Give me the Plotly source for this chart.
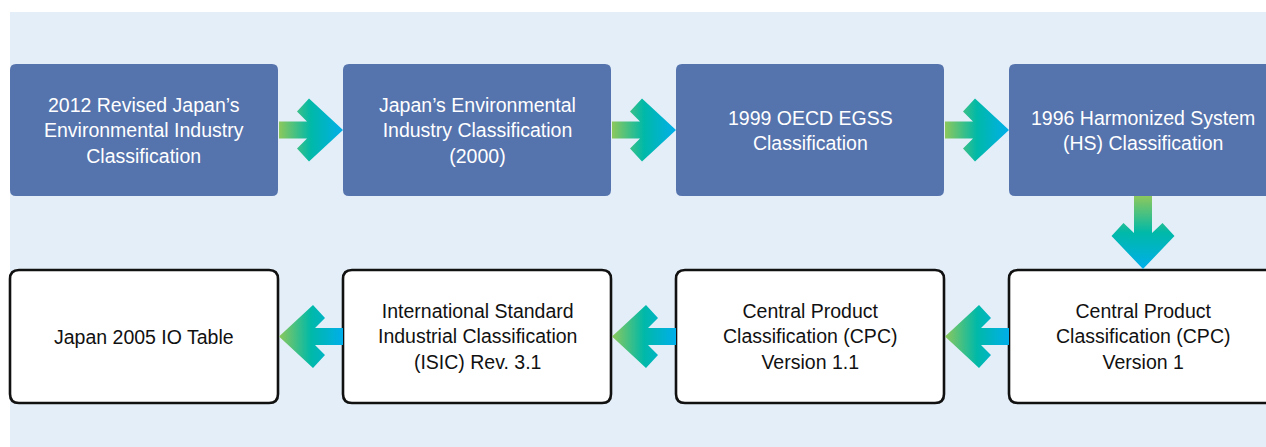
import plotly.graph_objects as go

# Flow steps (top row left->right, bottom row right->left in reading order)
top_labels = [
    "2012 Revised Japan’s<br>Environmental Industry<br>Classification",
    "Japan’s Environmental<br>Industry Classification<br>(2000)",
    "1999 OECD EGSS<br>Classification",
    "1996 Harmonized System<br>(HS) Classification",
]
bottom_labels = [
    "Japan 2005 IO Table",
    "International Standard<br>Industrial Classification<br>(ISIC) Rev. 3.1",
    "Central Product<br>Classification (CPC)<br>Version 1.1",
    "Central Product<br>Classification (CPC)<br>Version 1",
]

W, H = 1266, 447
BOX_W, BOX_STEP = 268, 333
X0 = 10
TOP_Y = (64, 196)
BOT_Y = (270, 403)
BOX_FILL = "#5573AD"
PANEL = "#E3EEF8"
FONT = "Liberation Sans, Arial, sans-serif"
FS = 19.5
GRAD = [[0, "#8DC85C"], [0.5, "#00B9A8"], [1, "#00AEEA"]]


def rrect(x0, y0, x1, y1, r):
    return (f"M{x0+r},{y0} L{x1-r},{y0} Q{x1},{y0} {x1},{y0+r} L{x1},{y1-r} "
            f"Q{x1},{y1} {x1-r},{y1} L{x0+r},{y1} Q{x0},{y1} {x0},{y1-r} "
            f"L{x0},{y0+r} Q{x0},{y0} {x0+r},{y0} Z")


fig = go.Figure()
shapes = [dict(type="rect", xref="x", yref="y", x0=10, y0=12, x1=W + 10, y1=H + 10,
               fillcolor=PANEL, line=dict(width=0), layer="below")]
annotations = []

for i, lab in enumerate(top_labels):
    x0 = X0 + i * BOX_STEP
    x1 = x0 + BOX_W
    shapes.append(dict(type="path", xref="x", yref="y", path=rrect(x0, TOP_Y[0], x1, TOP_Y[1], 6),
                       fillcolor=BOX_FILL, line=dict(width=0), layer="below"))
    annotations.append(dict(x=(x0 + x1) / 2, y=(TOP_Y[0] + TOP_Y[1]) / 2, xref="x", yref="y",
                            text=lab, showarrow=False, align="center",
                            font=dict(family=FONT, size=FS, color="white")))

for i, lab in enumerate(bottom_labels):
    x0 = X0 + i * BOX_STEP
    x1 = x0 + BOX_W
    shapes.append(dict(type="path", xref="x", yref="y", path=rrect(x0, BOT_Y[0], x1, BOT_Y[1], 9),
                       fillcolor="white", line=dict(width=2.6, color="#111111"), layer="below"))
    annotations.append(dict(x=(x0 + x1) / 2, y=(BOT_Y[0] + BOT_Y[1]) / 2, xref="x", yref="y",
                            text=lab, showarrow=False, align="center",
                            font=dict(family=FONT, size=FS, color="#111111")))


def h_arrow(xa, xb, c, direction):
    # direction +1: tip at xb; -1: tip at xa
    sh, hh, hl, nj, nn, no = 8.5, 31.5, 34, 36, 46, 18.5
    if direction > 0:
        t = xb
        s = lambda d: t - d
        xs = [xa, s(nj), s(nn), s(hl), t, s(hl), s(nn), s(nj), xa, xa]
    else:
        t = xa
        s = lambda d: t + d
        xs = [xb, s(nj), s(nn), s(hl), t, s(hl), s(nn), s(nj), xb, xb]
    ys = [c - sh, c - sh, c - no, c - hh, c, c + hh, c + no, c + sh, c + sh, c - sh]
    return xs, ys


def add_poly(xs, ys, gtype, start, stop):
    fig.add_trace(go.Scatter(x=xs, y=ys, mode="lines", fill="toself", line=dict(width=0),
                             fillgradient=dict(type=gtype, colorscale=GRAD, start=start, stop=stop),
                             hoverinfo="skip", showlegend=False))


# right arrows between top boxes
for i in range(len(top_labels) - 1):
    xa = X0 + i * BOX_STEP + BOX_W + 1
    xb = X0 + (i + 1) * BOX_STEP
    xs, ys = h_arrow(xa, xb, (TOP_Y[0] + TOP_Y[1]) / 2, +1)
    add_poly(xs, ys, "horizontal", xa, xb)

# left arrows between bottom boxes
for i in range(len(bottom_labels) - 1):
    xa = X0 + i * BOX_STEP + BOX_W + 1
    xb = X0 + (i + 1) * BOX_STEP
    xs, ys = h_arrow(xa, xb, (BOT_Y[0] + BOT_Y[1]) / 2, -1)
    add_poly(xs, ys, "horizontal", xa, xb)

# down arrow from last top box to last bottom box
cx = X0 + 3 * BOX_STEP + BOX_W / 2
ya, yb = TOP_Y[1], BOT_Y[0] - 1
sh, hh, hl, nj, nn, no = 9, 31.5, 33, 36, 46, 19.5
xs = [cx - sh, cx - sh, cx - no, cx - hh, cx, cx + hh, cx + no, cx + sh, cx + sh, cx - sh]
ys = [ya, yb - nj, yb - nn, yb - hl, yb, yb - hl, yb - nn, yb - nj, ya, ya]
add_poly(xs, ys, "vertical", ya, yb)

fig.update_layout(
    width=W, height=H, margin=dict(l=0, r=0, t=0, b=0),
    paper_bgcolor="white", plot_bgcolor="white",
    xaxis=dict(range=[0, W], visible=False, fixedrange=True),
    yaxis=dict(range=[H, 0], visible=False, fixedrange=True),
    shapes=shapes, annotations=annotations, showlegend=False,
)
fig.write_html("out.html", config=dict(displayModeBar=False))

# remove the default page margin so the figure fills the window exactly
with open("out.html", encoding="utf-8") as f:
    html = f.read()
html = html.replace("<body>", '<body style="margin:0;overflow:hidden">', 1)
with open("out.html", "w", encoding="utf-8") as f:
    f.write(html)
